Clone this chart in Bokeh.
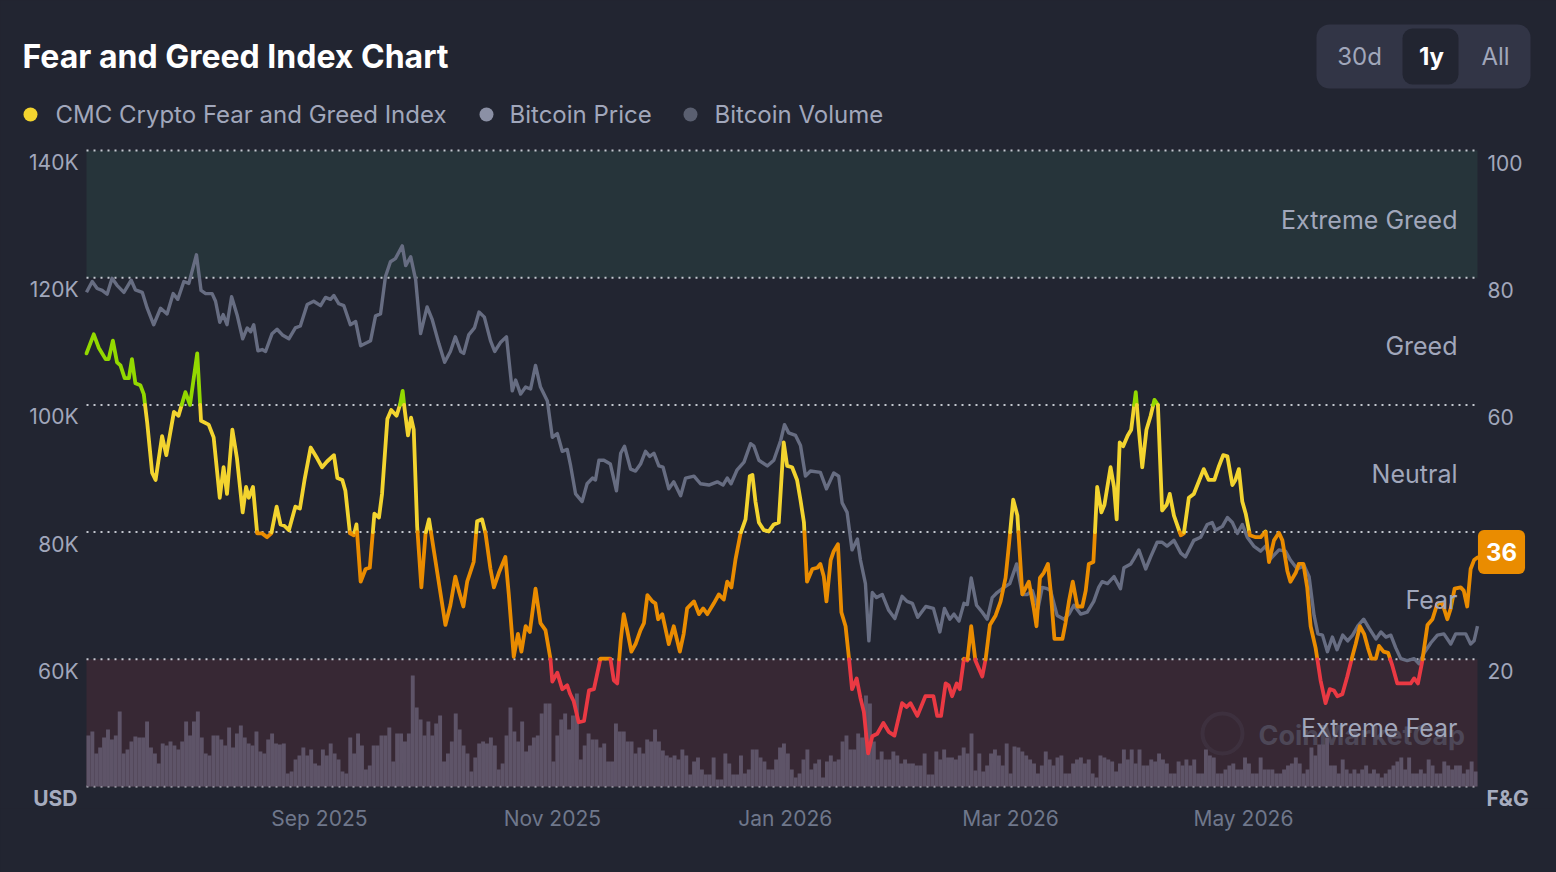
import numpy as np
import pandas as pd
from bokeh.plotting import figure
from bokeh.models import (Range1d, FixedTicker, DatetimeTickFormatter, Label, BoxAnnotation)
from bokeh.core.properties import value
from bokeh.embed import file_html
from bokeh.resources import INLINE

# ---------------- data ----------------
start_date = "2025-07-02"
span_days = 364.3

fg_day = [0.0,1.9,3.2,5.0,5.8,6.9,8.0,8.9,10.0,11.1,
          11.9,12.8,14.1,15.0,15.9,17.2,18.1,19.8,20.9,22.9,
          24.1,25.9,27.1,29.0,30.0,32.0,33.3,34.9,35.9,36.8,
          38.2,39.4,40.9,41.8,42.5,43.6,44.7,46.0,47.3,48.4,
          49.8,50.8,51.8,53.0,54.7,55.9,57.1,58.7,60.4,61.7,
          63.0,64.8,65.7,67.0,67.8,69.0,70.0,70.7,71.8,73.1,
          74.2,75.4,76.6,77.4,78.8,79.8,81.2,82.1,82.8,83.3,
          84.2,85.0,85.7,86.6,87.7,88.8,89.7,91.0,94.0,95.3,
          96.6,97.5,98.7,99.7,101.4,102.3,103.6,104.5,105.8,106.7,
          108.0,109.7,110.6,111.9,113.0,113.9,115.0,116.1,117.6,118.9,
          120.2,121.5,122.0,123.3,124.6,125.9,126.7,127.6,128.9,130.3,
          131.6,132.9,134.6,137.2,138.1,139.0,139.9,140.7,141.6,142.7,
          143.8,145.1,146.0,146.9,148.2,149.0,149.7,150.8,152.5,153.8,
          155.4,156.4,157.3,159.1,160.4,161.5,162.6,164.3,165.6,166.9,
          167.8,168.9,170.0,171.3,172.6,173.7,174.4,175.2,176.1,177.4,
          178.7,180.0,181.3,182.6,183.5,184.8,186.1,187.0,187.9,188.7,
          190.1,191.4,192.2,193.1,193.8,194.9,195.7,196.8,197.7,198.8,
          199.7,200.5,201.7,202.7,203.6,204.7,205.8,207.1,208.7,210.1,
          211.6,213.6,214.8,215.8,217.6,219.7,221.8,222.8,223.8,225.0,
          225.8,226.7,227.9,228.7,229.8,230.7,231.7,232.8,234.6,235.5,
          236.6,238.1,239.4,240.7,241.6,242.7,243.8,245.1,246.8,248.1,
          248.8,249.7,250.7,251.8,252.5,253.5,255.6,256.4,257.3,258.3,
          259.5,260.8,261.7,262.5,263.7,264.1,264.7,265.8,266.6,268.2,
          269.1,269.8,270.6,271.5,272.7,273.6,274.8,275.6,276.5,277.6,
          278.7,279.7,280.6,281.7,282.9,283.7,284.8,286.6,287.4,288.7,
          290.0,292.6,293.9,295.4,296.6,297.7,298.8,300.1,300.9,301.8,
          302.7,303.6,304.7,306.2,307.5,308.8,309.7,311.0,312.3,313.2,
          314.5,315.3,316.7,317.5,318.7,319.7,320.6,321.9,323.2,324.5,
          325.6,326.7,327.6,328.9,330.2,331.5,332.4,333.5,334.6,335.6,
          336.5,337.7,338.5,339.7,340.9,342.0,343.3,345.1,346.8,347.7,
          348.7,349.8,351.2,352.5,353.8,355.1,356.4,357.3,358.3,359.9,
          360.7,361.6,362.5,363.4,364.3]

fg_value = [68.1,71.1,69.0,67.2,67.2,70.1,66.7,66.2,64.2,64.2,
            67.2,63.4,63.1,61.7,57.2,49.3,48.2,55.1,52.1,58.9,
            58.3,62.0,60.0,68.1,57.5,56.9,54.9,45.4,50.2,46.0,
            56.1,51.6,43.1,47.1,45.4,47.1,39.8,39.8,39.2,39.8,
            44.0,41.2,41.0,40.3,44.0,43.7,48.2,53.3,51.6,50.2,
            51.1,52.1,48.5,48.2,46.5,39.8,39.5,41.2,32.2,34.2,
            34.4,42.9,42.3,46.0,57.8,59.2,58.3,60.0,62.2,59.4,
            55.2,58.0,56.1,40.9,31.3,39.8,42.0,37.0,25.4,28.5,
            33.0,30.8,28.3,32.2,35.3,41.7,42.0,39.8,34.2,31.3,
            33.6,36.1,30.2,20.4,24.0,21.2,25.2,24.3,31.1,25.7,
            24.6,20.1,16.5,17.9,15.3,15.9,14.5,13.4,10.1,10.3,
            15.1,15.3,20.1,20.1,16.7,16.2,22.9,27.1,24.6,21.2,
            22.4,24.6,25.7,30.1,29.1,28.8,26.3,27.1,22.4,25.2,
            21.2,24.0,28.0,29.1,27.1,28.0,27.1,28.8,30.2,29.4,
            32.2,31.3,35.8,39.8,42.0,48.8,49.0,44.8,41.5,40.3,
            40.1,41.2,41.5,54.1,50.4,50.2,48.2,45.0,41.5,32.2,
            34.2,34.4,35.0,33.0,29.1,35.6,37.0,38.1,27.4,25.2,
            20.1,15.3,17.0,13.9,11.7,5.2,7.9,8.3,10.0,8.6,
            8.0,13.1,12.5,13.1,11.1,14.2,14.2,11.1,11.1,16.2,
            15.9,14.2,16.2,15.3,20.1,19.8,25.2,19.8,17.3,20.1,
            25.4,26.9,29.1,32.8,38.1,45.1,42.6,30.2,32.2,28.0,
            25.2,32.8,33.6,35.0,30.8,23.2,23.2,25.7,29.1,32.2,
            28.3,28.3,30.8,35.0,35.3,39.8,47.1,43.1,44.3,50.2,
            47.1,42.0,54.1,53.5,55.2,56.1,62.0,56.1,50.2,56.1,
            58.3,60.8,60.0,43.4,44.3,46.0,42.6,39.5,39.8,45.4,
            46.0,49.9,48.2,48.2,50.4,52.1,51.9,47.4,48.2,49.9,
            44.8,42.9,39.5,39.2,39.2,40.1,35.3,38.7,39.9,38.7,
            33.9,32.2,33.6,35.0,35.0,31.3,25.2,21.8,16.7,13.1,
            15.3,15.1,14.2,14.5,17.3,20.4,22.4,25.2,24.0,21.8,
            20.1,20.1,22.1,21.2,21.0,19.0,16.2,16.2,16.2,17.0,
            16.2,19.6,25.4,26.3,28.8,28.8,26.3,28.0,31.1,31.3,
            30.8,28.3,34.2,35.6,36.0]

price_day = [0.0,1.5,2.8,4.1,5.4,6.7,8.0,9.8,11.7,12.8,
             14.6,15.9,17.6,19.4,21.1,22.7,23.9,25.5,26.8,28.8,
             30.0,31.2,32.9,33.8,34.9,35.8,36.8,38.0,39.5,40.9,
             42.1,43.0,43.8,44.9,46.0,46.9,48.6,49.9,51.3,53.0,
             54.7,56.0,57.8,59.5,61.3,62.6,63.9,64.8,66.1,67.4,
             69.1,70.5,71.8,73.5,74.4,75.7,77.0,78.3,79.6,80.9,
             82.7,83.6,84.9,86.2,87.5,89.2,90.5,92.3,93.8,95.3,
             96.6,98.0,98.8,100.1,101.6,102.8,104.2,105.8,106.9,108.4,
             110.0,111.5,112.4,113.7,115.0,116.3,117.6,118.9,120.7,122.0,
             123.3,124.6,125.9,126.8,128.1,129.8,131.1,132.5,133.3,134.2,
             135.5,137.2,138.8,139.9,140.9,142.5,143.8,145.1,146.4,147.5,
             148.6,149.9,151.0,152.5,153.8,155.6,156.9,159.1,160.8,163.0,
             165.2,166.7,167.8,168.8,170.4,172.2,173.9,174.8,176.1,178.3,
             180.0,181.8,182.8,183.9,185.7,187.0,188.3,189.6,192.2,193.8,
             195.7,197.0,197.9,199.2,200.5,201.9,202.7,204.0,204.9,205.8,
             206.9,208.4,210.1,211.7,213.6,214.9,216.3,217.7,219.8,221.8,
             223.5,224.7,226.1,227.2,228.5,229.8,230.7,231.7,233.1,234.6,
             235.9,237.2,238.5,240.3,241.8,243.6,245.1,246.4,247.7,249.2,
             250.3,251.6,252.5,254.2,256.0,257.3,258.6,260.4,262.1,263.8,
             265.1,266.0,267.4,269.1,270.8,271.7,273.5,274.3,275.6,277.4,
             278.7,280.4,281.7,283.0,284.8,286.6,287.8,290.0,291.8,293.5,
             294.8,295.7,297.5,298.8,300.1,301.4,302.7,304.0,305.7,307.5,
             308.8,310.1,312.3,314.0,315.3,317.1,318.9,320.2,321.5,322.5,
             323.7,325.0,326.3,327.5,329.0,330.3,331.6,332.9,334.5,335.9,
             337.7,339.0,340.3,341.6,342.9,344.2,345.9,347.7,349.0,350.3,
             352.1,353.8,355.5,357.3,358.6,359.9,361.2,362.5,363.4,364.3]

price_k = [117.7,119.4,118.3,118.0,117.4,119.9,118.8,117.7,119.6,118.1,
           117.7,115.2,112.6,115.2,114.3,117.5,116.6,119.4,119.1,123.6,
           118.0,117.5,117.5,116.3,113.0,114.2,112.6,117.0,114.0,110.4,
           112.1,111.5,112.6,108.5,108.7,108.4,111.2,111.9,111.0,110.4,
           112.1,112.4,115.8,116.3,115.6,116.9,116.6,117.2,115.9,115.6,
           112.6,113.1,109.3,109.8,110.1,114.0,114.3,120.2,122.5,123.0,
           125.0,121.9,123.3,119.7,111.2,115.4,113.5,109.6,106.7,108.4,
           110.7,108.4,108.1,111.0,112.1,114.6,113.8,110.1,108.4,109.8,
           110.7,102.2,103.9,101.7,102.8,102.5,106.2,102.8,100.6,94.9,
           95.5,92.7,93.0,90.4,86.0,84.8,87.6,88.5,88.2,91.3,
           91.3,90.7,86.5,92.4,93.5,89.9,89.6,90.7,92.7,91.9,
           92.4,90.4,90.2,86.8,87.9,85.7,88.5,88.8,87.6,87.4,
           87.9,87.4,88.5,87.6,89.8,91.0,93.9,93.5,91.3,90.4,
           91.3,94.4,96.9,95.6,95.2,93.6,88.8,89.6,89.4,86.8,
           89.3,88.8,84.6,83.1,77.2,78.9,75.6,71.9,62.9,70.5,
           69.7,70.2,67.7,66.4,69.9,69.1,68.8,66.6,68.3,68.0,
           64.3,68.0,66.3,67.1,66.0,68.8,68.6,72.8,68.5,67.4,
           66.3,69.7,70.5,71.3,71.9,75.0,70.2,70.2,70.8,68.0,
           71.3,71.1,70.8,66.9,66.3,67.1,68.5,67.1,67.4,69.1,
           71.3,72.2,71.9,73.0,71.1,74.4,75.0,75.8,77.2,74.2,
           76.1,78.4,78.4,77.8,78.7,76.7,76.1,78.7,79.2,81.2,
           81.5,80.3,80.9,82.3,81.5,79.8,81.2,79.2,77.8,77.0,
           77.8,75.8,77.2,77.0,75.6,74.2,74.7,73.0,66.9,64.0,
           63.8,61.2,63.5,61.5,63.8,62.9,63.8,65.2,66.3,64.9,
           63.2,64.3,63.5,63.8,61.8,60.1,59.8,60.1,59.3,61.0,
           62.6,63.8,64.0,62.4,64.0,64.0,64.0,62.4,62.9,65.2]

volume_bn = [25.5,27.5,16.5,19.5,24.5,28.5,23.5,25.5,37.5,16.5,
             18.5,22.5,25,24.5,24.5,32.5,19.5,16.5,11.5,21.5,
             20.5,22.5,20.5,18.5,22.5,32.5,25.5,32.5,37.5,24.5,
             16.5,15.5,25.5,25.5,23.5,20.5,29.5,19.5,26.5,30.5,
             24.5,21.5,20.5,27.5,17.5,16.5,23.5,26.5,21.5,21,
             21.5,6.5,7.5,13.5,15.5,19.5,15.5,18.5,11.5,10.5,
             18.5,15.5,21.5,16.5,13.5,7.5,6.5,24.5,16.5,26.5,
             20.5,8.5,10.5,20.5,20.5,25.5,25.5,29.5,12.5,26.5,
             26.5,22.5,26.5,55.5,39.5,33.5,25.5,32.5,25.5,31.5,
             35.5,12.5,16.5,22.5,36.5,28.5,20.5,16.5,7.5,14.5,
             21.5,22.5,21.5,24.5,20.5,8.5,11.5,25.5,39.5,27.5,
             22.5,32.5,17.5,20.5,24.5,25.5,36.5,41.5,41.5,
             12.5,25.5,33.5,36.5,28.5,35.5,46.5,13.5,20.5,26.5,
             23.5,23.5,19.5,21.5,12.5,12.5,31.5,27.5,27.5,22.5,
             22.5,16.5,19.5,16.5,23.5,22.5,28.5,22.5,18,15.5,
             14.5,15.5,13.5,18.5,15.5,6,12.5,14.5,8.5,6,
             6,14.5,3.5,3.5,16.5,11.5,6,6,15.5,6.5,
             8.5,18.5,18.5,14.5,12.5,8.5,8.5,13.5,19.5,21.5,
             16.5,8.5,4.5,6.5,13.5,18.5,8.5,11.5,13.5,4.5,
             12.5,15.5,12.5,13.5,22.5,25.5,18.5,18.5,26.5,24.5,
             45.5,41.5,22.5,13.5,17.5,13.5,13.5,17.5,15.5,11.5,
             13.5,11.5,11.5,10.5,10.5,16.5,6,6,17.5,13.5,
             18.5,14.5,14.5,13.5,15.5,19.5,16.5,26.5,8,16.5,
             7.5,10.5,16.5,18.5,15.5,10.5,21.5,6.5,20,
             19.5,17.5,15.5,13.5,11.5,6.5,10.5,17.5,13.5,10.5,
             14.5,15.5,6.5,6.5,11.5,13.5,14.5,11.5,13.5,6.5,
             4.5,15.5,14.5,13.5,12.5,7.5,11.5,18.5,13.5,18.5,
             11.5,18.5,10.5,10.5,13.5,12.5,16.5,13.5,11.5,6.5,
             6.5,12.5,10.5,13.5,10.5,13.5,6.5,6.5,18.5,15.5,
             14.5,6.5,6.5,8.5,10.5,11.5,8.5,8.5,14.5,11.5,
             6.5,6.5,14.5,8.5,8.5,8.5,6.5,6.5,8.5,10.5,
             11.5,14.5,11.5,6.5,8.5,19.5,15.5,21,21,24.5,
             10.5,10.5,6.5,13.5,8.5,6.5,8.5,6.5,8.5,10.5,
             6.5,8.5,6.5,4.5,6.5,8.5,10.5,12.5,14.5,8.5,
             14.5,6.5,6.5,8.5,6.5,13.5,10.5,6.5,6.5,12.5,
             10.5,8.5,10.5,10.5,6.5,8.5,12.5,7.5]

usd_ticks = [60, 80, 100, 120, 140]
fg_ticks = [20, 40, 60, 80, 100]
grid_levels = [0, 20, 40, 60, 80, 100]
month_ticks = ["2025-09-01", "2025-11-01", "2026-01-01", "2026-03-01", "2026-05-01"]
zone_names = ["Extreme Greed", "Greed", "Neutral", "Fear", "Extreme Fear"]
fg_thresholds = [20, 40, 60, 80]
fg_colors = ["#EA3943", "#EA8C00", "#F3D42F", "#93D900", "#16C784"]
latest_fg = 36
legend_names = ["CMC Crypto Fear and Greed Index", "Bitcoin Price", "Bitcoin Volume"]
range_buttons = ["30d", "1y", "All"]

# ---------------- layout / styles ----------------
W, H = 1556, 872
PLOT_L, PLOT_R, PLOT_T, PLOT_B = 86, 1477, 150, 786   # data area (page px)
FRAME_B = 808                                        # frame bottom; x-axis sits below
BG = "#222531"
GREY_TXT = "#a1a7bb"
FONT = "Inter"
DAY_MS = 86400000.0

base_ms = pd.Timestamp(start_date).value / 1e6
end_ms = base_ms + span_days * DAY_MS
px_per_day = (PLOT_R - PLOT_L) / span_days
px_per_unit = (PLOT_B - PLOT_T) / 100.0

def to_ms(days):
    return [base_ms + d * DAY_MS for d in days]

fg_x = to_ms(fg_day)
price_x = to_ms(price_day)
n_vol = len(volume_bn)
vol_step = span_days / n_vol
vol_x = [base_ms + (i + 0.5) * vol_step * DAY_MS for i in range(n_vol)]

x_lo = base_ms - PLOT_L / px_per_day * DAY_MS
x_hi = base_ms + (W - PLOT_L) / px_per_day * DAY_MS
y_hi = PLOT_B / px_per_unit
y_lo = (PLOT_B - FRAME_B) / px_per_unit
VOL_FULL = 318.0   # volume (bn USD) spanning the 0-100 height

p = figure(width=W, height=H, x_axis_type="datetime", y_axis_location=None,
           x_range=Range1d(x_lo, x_hi), y_range=Range1d(y_lo, y_hi),
           output_backend="svg", toolbar_location=None,
           min_border_left=0, min_border_right=0, min_border_top=0,
           min_border_bottom=H - FRAME_B,
           background_fill_color=BG, border_fill_color=BG, outline_line_color=None)
p.extra_y_ranges = {"usd": Range1d(40 + y_lo, 40 + y_hi),
                    "vol": Range1d(y_lo * VOL_FULL / 100, y_hi * VOL_FULL / 100)}
p.xgrid.visible = False
p.ygrid.visible = False

# x axis (library)
xa = p.xaxis[0]
xa.ticker = FixedTicker(ticks=[pd.Timestamp(d).value / 1e6 for d in month_ticks])
fmt = "%b %Y"
xa.formatter = DatetimeTickFormatter(milliseconds=fmt, seconds=fmt, minsec=fmt, minutes=fmt,
                                     hourmin=fmt, hours=fmt, days=fmt, months=fmt, years=fmt)
xa.axis_line_color = None
xa.major_tick_line_color = None
xa.minor_tick_line_color = None
xa.major_label_text_color = "#6f778b"
xa.major_label_text_font = FONT
xa.major_label_text_font_size = "21px"
xa.major_label_standoff = -9

# zone bands
p.add_layout(BoxAnnotation(left=base_ms, right=end_ms, bottom=80, top=100,
                           fill_color="#26343a", fill_alpha=1.0, line_color=None, level="image"))
p.add_layout(BoxAnnotation(left=base_ms, right=end_ms, bottom=0, top=20,
                           fill_color="#372834", fill_alpha=1.0, line_color=None, level="image"))

# screen helpers (frame origin = page left / FRAME_B)
def sx(px): return px
def sy(py): return FRAME_B - py

def screen_label(px, py, text, size, color, bold=False, align="left", level="annotation"):
    p.add_layout(Label(x=sx(px), y=sy(py), x_units="screen", y_units="screen", text=text,
                       text_font=FONT, text_font_size=f"{size}px", text_color=color,
                       text_font_style="bold" if bold else "normal", text_align=align,
                       text_baseline="middle", level=level))

def screen_box(x0, y0, x1, y1, color, radius, line_color=None, line_width=1, level="annotation"):
    p.add_layout(BoxAnnotation(left=sx(x0), right=sx(x1), top=sy(y0), bottom=sy(y1),
                               left_units="screen", right_units="screen",
                               top_units="screen", bottom_units="screen",
                               fill_color=color, fill_alpha=1.0 if color else 0,
                               line_color=line_color, line_width=line_width,
                               border_radius=radius, level=level))

# watermark
screen_box(1202, 713, 1242, 753, None, 20, line_color="#4d4757", line_width=4, level="underlay")
screen_label(1258, 735, "CoinMarketCap", 27, "#4d4757", bold=True, level="underlay")

# dotted grid lines
ng = len(grid_levels)
p.segment(x0=[base_ms] * ng, x1=[end_ms] * ng, y0=grid_levels, y1=grid_levels,
          line_color="#d5d8e0", line_width=2, line_dash="2 5", line_alpha=0.9)

# volume
p.vbar(x=vol_x, top=volume_bn, width=vol_step * DAY_MS, bottom=0, y_range_name="vol",
       fill_color="#5e5468", line_color=None)

# price
p.line(price_x, price_k, y_range_name="usd", line_color="#676d82", line_width=3.4,
       line_join="round")

# fear & greed coloured by zone
def zone_of(v):
    return sum(1 for t in fg_thresholds if v >= t)

runs_x, runs_y, runs_c = [], [], []
cur_x, cur_y, cur_z = [fg_x[0]], [fg_value[0]], None
for i in range(len(fg_x) - 1):
    x0, y0, x1, y1 = fg_x[i], fg_value[i], fg_x[i + 1], fg_value[i + 1]
    cuts = [0.0, 1.0]
    for t in fg_thresholds:
        if (y0 - t) * (y1 - t) < 0:
            cuts.append((t - y0) / (y1 - y0))
    cuts.sort()
    for a, b in zip(cuts[:-1], cuts[1:]):
        z = zone_of(y0 + (y1 - y0) * (a + b) / 2)
        xa_, ya_ = x0 + (x1 - x0) * a, y0 + (y1 - y0) * a
        xb_, yb_ = x0 + (x1 - x0) * b, y0 + (y1 - y0) * b
        if cur_z is None:
            cur_z = z
        if z != cur_z:
            runs_x.append(cur_x); runs_y.append(cur_y); runs_c.append(fg_colors[cur_z])
            cur_x, cur_y, cur_z = [xa_], [ya_], z
        cur_x.append(xb_); cur_y.append(yb_)
runs_x.append(cur_x); runs_y.append(cur_y); runs_c.append(fg_colors[cur_z])
p.multi_line(runs_x, runs_y, line_color=runs_c, line_width=3.8, line_join="round",
             line_cap="round")

# y tick labels (positioned by the scales, ~12px below each grid line)
p.text(x=[base_ms] * len(usd_ticks), y=usd_ticks, text=[f"{t}K" for t in usd_ticks],
       y_range_name="usd", x_offset=-8, y_offset=12, text_align="right",
       text_baseline="middle", text_font=value(FONT), text_font_size="21px",
       text_color=GREY_TXT)
p.text(x=[end_ms] * len(fg_ticks), y=fg_ticks, text=[str(t) for t in fg_ticks],
       x_offset=10, y_offset=12, text_align="left",
       text_baseline="middle", text_font=value(FONT), text_font_size="21px",
       text_color=GREY_TXT)

# zone labels
for name, py in zip(zone_names, [219, 345, 473, 599, 727]):
    screen_label(1457, py, name, 25, GREY_TXT, align="right")

# latest value badge
p.add_layout(Label(x=sx(1501), y=sy(551.5), x_units="screen", y_units="screen",
                   text=str(latest_fg), text_font=FONT, text_font_size="24px",
                   text_font_style="bold", text_color="white", text_align="center",
                   text_baseline="middle", background_fill_color="#EA8C00",
                   background_fill_alpha=1.0, padding=(8, 13), border_radius=6))

# title, legend, range buttons
screen_label(22, 56, "Fear and Greed Index Chart", 32, "white", bold=True)
legend_dot_x = [30, 486, 690]
legend_text_x = [55, 509, 714]
legend_colors = ["#F3D42F", "#8b90a5", "#5a5f70"]
for name, dx, tx, c in zip(legend_names, legend_dot_x, legend_text_x, legend_colors):
    screen_box(dx - 7, 107, dx + 7, 121, c, 7)
    screen_label(tx, 114, name, 24, GREY_TXT)

screen_box(1316, 24, 1530, 88, "#323546", 13)
screen_box(1402, 28, 1458, 84, BG, 10)
for name, cx in zip(range_buttons, [1359, 1431, 1495]):
    screen_label(cx, 56, name, 24, "white" if name == "1y" else GREY_TXT,
                 bold=(name == "1y"), align="center")

# axis end captions
screen_label(77, 798, "USD", 21, "#a6acbf", bold=True, align="right")
screen_label(1486, 798, "F&G", 21, "#a6acbf", bold=True, align="left")

html = file_html(p, INLINE, title="Fear and Greed Index Chart")
html = html.replace("<head>", "<head><style>html,body{background:#222531;}</style>", 1)
open("out.html", "w").write(html)
